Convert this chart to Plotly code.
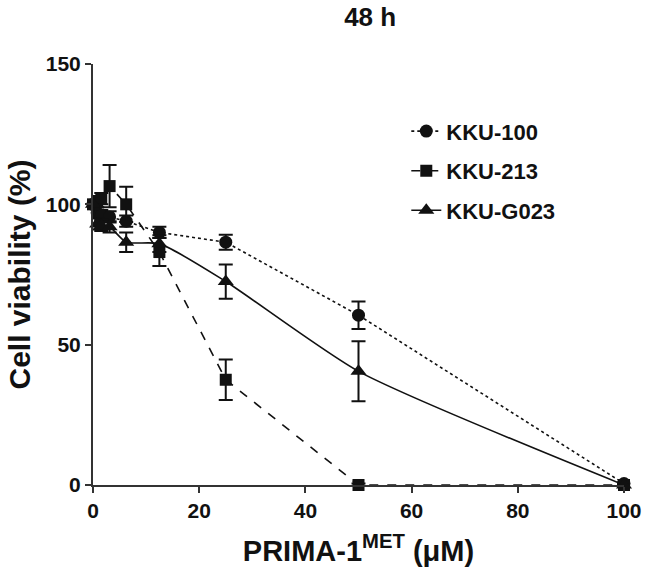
import plotly.graph_objects as go

conc = [0, 0.78, 1.56, 3.125, 6.25, 12.5, 25, 50, 100]

kku100 = [100, 97, 96, 95.5, 94, 90, 86.5, 60.5, 0.5]
kku100_err = [0, 2, 2, 2, 2, 2, 2.7, 4.9, 0.5]

kku213 = [100, 101, 102, 106.5, 100, 83, 37.5, 0, 0]
kku213_err = [0, 2, 2, 7.5, 6.3, 5, 7.2, 0.5, 0]

kkug023 = [100, 93, 92.5, 92, 86.5, 86, 72.5, 40.5, 0]
kkug023_err = [0, 2, 2, 2, 3.5, 3, 6.1, 10.7, 0.5]

ink = "#111111"
font_family = "Liberation Sans, Arial, sans-serif"

fig = go.Figure()

series = [
    ("KKU-100", kku100, kku100_err, "circle", "dot", 13, "linear"),
    ("KKU-213", kku213, kku213_err, "square", "dash", 12, "linear"),
    ("KKU-G023", kkug023, kkug023_err, "triangle-up", "solid", 14, "spline"),
]

for i, (name, vals, errs, sym, dash, size, shape) in enumerate(series):
    fig.add_trace(go.Scatter(
        x=conc, y=vals, name=name, mode="lines+markers",
        legendgroup=name,
        line=dict(color=ink, width=1.6, dash=dash, shape=shape, smoothing=0.6),
        marker=dict(symbol=sym, size=size, color=ink),
        error_y=dict(type="data", array=errs, visible=True, color=ink,
                     thickness=2, width=7),
        cliponaxis=False,
    ))

fig.update_layout(
    width=646, height=575,
    margin=dict(l=93, r=22, t=64, b=90),
    plot_bgcolor="white", paper_bgcolor="white",
    font=dict(family=font_family, color=ink, weight="bold"),
    title=dict(text="<b>48 h</b>", x=0.573, xanchor="center", y=0.97, yanchor="middle",
               font=dict(size=26, family=font_family, color=ink, weight="bold")),
    showlegend=True,
    legend=dict(x=0.59, y=0.89, xanchor="left", yanchor="top",
                font=dict(size=22, family=font_family, color=ink, weight="bold"),
                itemwidth=30, tracegroupgap=8, bgcolor="rgba(0,0,0,0)"),
)

fig.update_xaxes(
    range=[0, 100], tickvals=[0, 20, 40, 60, 80, 100], automargin=False,
    showline=True, linecolor="#333333", linewidth=2,
    ticks="outside", ticklen=6, tickwidth=2, tickcolor="#333333",
    showgrid=False, zeroline=False,
    tickfont=dict(size=21, family=font_family, color=ink, weight="bold"),
    title=dict(text="<b>PRIMA-1<sup>MET</sup> (μM)</b>", standoff=19,
               font=dict(size=29, family=font_family, color=ink, weight="bold")),
)
fig.update_yaxes(
    range=[0, 150], tickvals=[0, 50, 100, 150], automargin=False,
    showline=True, linecolor="#333333", linewidth=2,
    ticks="outside", ticklen=6, tickwidth=2, tickcolor="#333333",
    showgrid=False, zeroline=False,
    tickfont=dict(size=21, family=font_family, color=ink, weight="bold"),
    title=dict(text="<b>Cell viability (%)</b>", standoff=6,
               font=dict(size=30, family=font_family, color=ink, weight="bold")),
)

fig.write_html("out.html", config={"displayModeBar": False},
               post_script="document.body.style.margin='0';document.documentElement.style.overflow='hidden';")
